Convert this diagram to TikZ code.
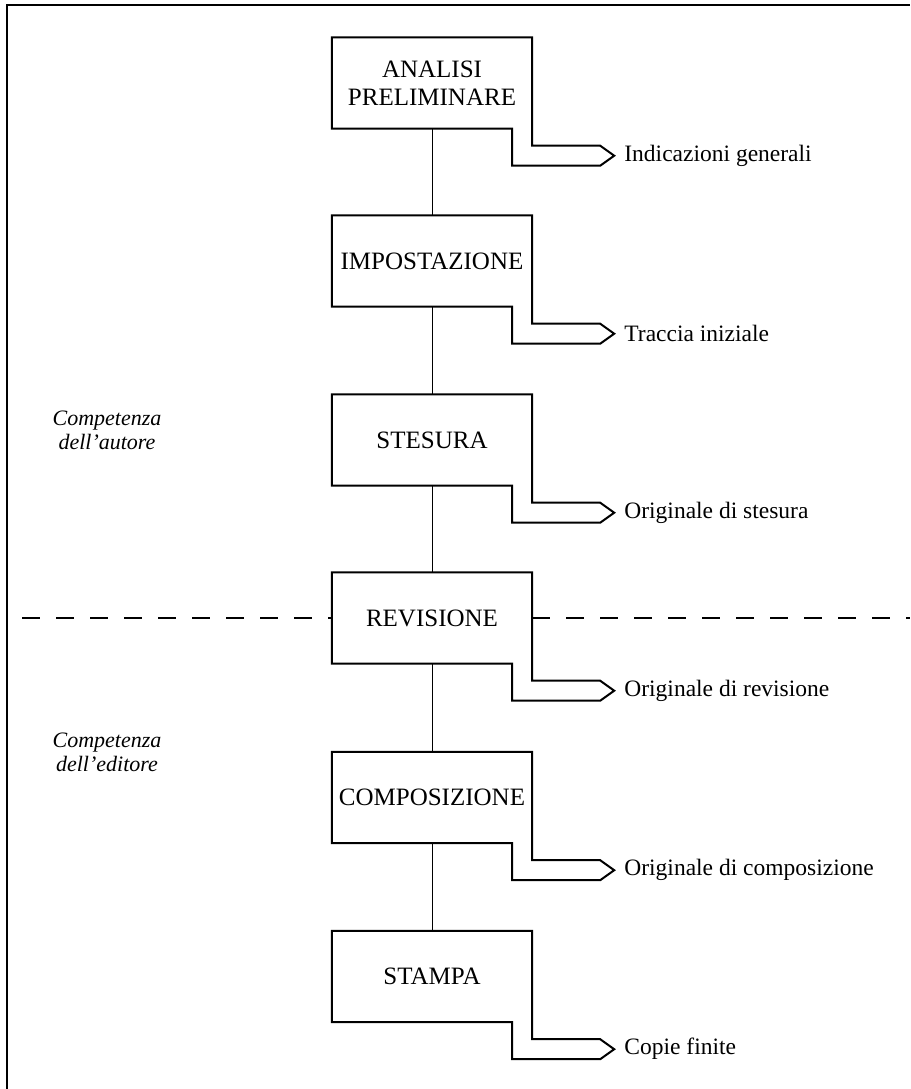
\documentclass[tikz,border=0pt]{standalone}
\usepackage{fontspec}
\setmainfont{Liberation Serif}
\usetikzlibrary{calc}
\begin{document}
\begin{tikzpicture}[x=1pt,y=-1pt,
  stage/.style={minimum width=200pt,minimum height=91pt,inner sep=0pt,align=center,font=\fontsize{25}{28}\selectfont},
  outline/.style={line width=2pt,line join=miter},
  conn/.style={line width=1pt},
  lab/.style={anchor=west,inner sep=0pt,font=\fontsize{23.5}{26}\selectfont},
  side/.style={align=center,inner sep=0pt,font=\itshape\fontsize{22}{24}\selectfont},
  divider/.style={line width=2pt,dash pattern=on 18pt off 16pt}]
\useasboundingbox (0,0) rectangle (910,1089);
% frame
\draw[line width=2pt] (7,1089) -- (7,5) -- (910,5);
% stages
\node[stage] (b1) at (432,83) {ANALISI\\PRELIMINARE};
\node[stage] (b2) at (432,261) {IMPOSTAZIONE};
\node[stage] (b3) at (432,440) {STESURA};
\node[stage] (b4) at (432,618) {REVISIONE};
\node[stage] (b5) at (432,797.5) {COMPOSIZIONE};
\node[stage] (b6) at (432,976.5) {STAMPA};
\foreach \i in {1,...,6}{
  \draw[outline] (b\i.north west) -- (b\i.north east)
    -- ($(b\i.south east)+(0,17)$) -- ($(b\i.south east)+(68,17)$)
    -- ($(b\i.south east)+(82,27)$) coordinate (t\i)
    -- ($(b\i.south east)+(68,37)$) -- ($(b\i.south east)+(-20,37)$)
    -- ($(b\i.south east)+(-20,0)$) -- (b\i.south west) -- cycle;
}
% outputs
\node[lab] (l1) at ([xshift=10pt]t1) {Indicazioni generali};
\node[lab] (l2) at ([xshift=10pt]t2) {Traccia iniziale};
\node[lab] (l3) at ([xshift=10pt]t3) {Originale di stesura};
\node[lab] (l4) at ([xshift=10pt]t4) {Originale di revisione};
\node[lab] (l5) at ([xshift=10pt]t5) {Originale di composizione};
\node[lab] (l6) at ([xshift=10pt]t6) {Copie finite};
% connectors
\draw[conn] (b1.south) -- (b2.north);
\draw[conn] (b2.south) -- (b3.north);
\draw[conn] (b3.south) -- (b4.north);
\draw[conn] (b4.south) -- (b5.north);
\draw[conn] (b5.south) -- (b6.north);
% divider
\coordinate (dl) at (22,618);
\coordinate (dr) at (910,618);
\draw[divider] (dl) -- (b4.west);
\draw[divider] (b4.east) -- (dr);
% side labels
\node[side] (ca) at (107,430) {Competenza\\dell’autore};
\node[side] (ce) at (107,752) {Competenza\\dell’editore};
\end{tikzpicture}
\end{document}
